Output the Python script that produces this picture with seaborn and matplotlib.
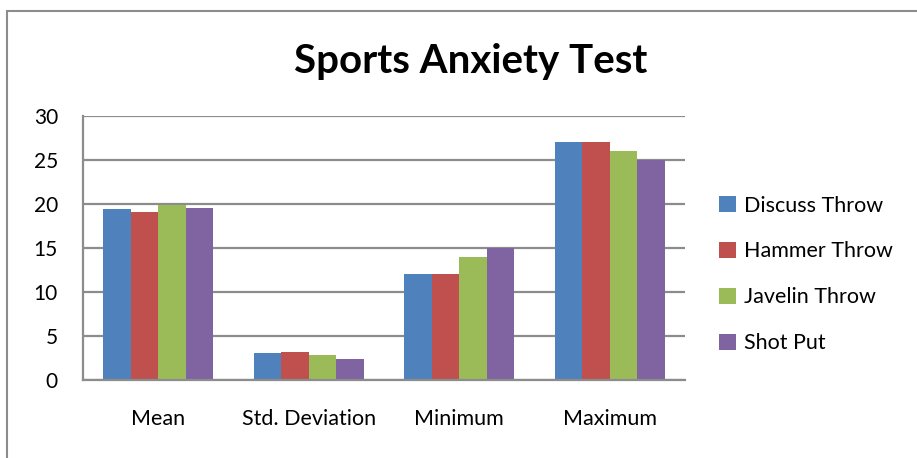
import matplotlib
matplotlib.use("Agg")
import matplotlib.pyplot as plt
import seaborn as sns
import pandas as pd
from matplotlib.patches import Rectangle

categories = ["Mean", "Std. Deviation", "Minimum", "Maximum"]
series = ["Discuss Throw", "Hammer Throw", "Javelin Throw", "Shot Put"]
discuss = [19.4, 3.07, 12, 27]
hammer = [19.1, 3.18, 12, 27]
javelin = [19.9, 2.84, 14, 26]
shotput = [19.5, 2.39, 15, 25]
colors = ["#4F81BD", "#C0504D", "#9BBB59", "#8064A2"]

rows = []
for name, vals in zip(series, [discuss, hammer, javelin, shotput]):
    for c, v in zip(categories, vals):
        rows.append({"Category": c, "Series": name, "Value": v})
df = pd.DataFrame(rows)

sns.set_theme(style="white")
plt.rcParams["font.family"] = ["Lato", "DejaVu Sans"]
plt.rcParams["text.color"] = "black"

fig = plt.figure(figsize=(9.17, 4.58), dpi=100)
ax = fig.add_axes([0.0905, 0.1703, 0.6565, 0.5764])

sns.barplot(data=df, x="Category", y="Value", hue="Series", order=categories,
            hue_order=series, palette=colors, width=0.73, saturation=1,
            edgecolor="none", linewidth=0, ax=ax, legend=True)

ax.set_ylim(0, 30)
ax.set_yticks([0, 5, 10, 15, 20, 25, 30])
ax.set_xlim(-0.5, 3.5)
ax.yaxis.grid(True, color="#8C8C8C", linewidth=1.6)
ax.set_axisbelow(True)
for s in ["top", "right"]:
    ax.spines[s].set_visible(False)
for s in ["left", "bottom"]:
    ax.spines[s].set_color("#8C8C8C")
    ax.spines[s].set_linewidth(1.6)
ax.set_xlabel("")
ax.set_ylabel("")
ax.tick_params(axis="y", labelsize=15, length=0, pad=18, colors="black")
ax.tick_params(axis="x", labelsize=15.5, length=0, pad=21, colors="black")

leg = ax.legend(loc="center left", bbox_to_anchor=(1.025, 0.40), frameon=False,
                fontsize=15.5, handlelength=0.75, handleheight=0.75,
                labelspacing=1.2, handletextpad=0.4)
for t in leg.get_texts():
    t.set_color("black")

fig.text(0.513, 0.865, "Sports Anxiety Test", ha="center", va="center",
         fontsize=29, fontweight="bold", color="black")

fig.patches.append(Rectangle((7 / 917, -0.05), 1.05, (458 - 11) / 458 + 0.05,
                             transform=fig.transFigure, fill=False,
                             edgecolor="#8C8C8C", linewidth=1.5))

fig.savefig("out.png", dpi=100)
